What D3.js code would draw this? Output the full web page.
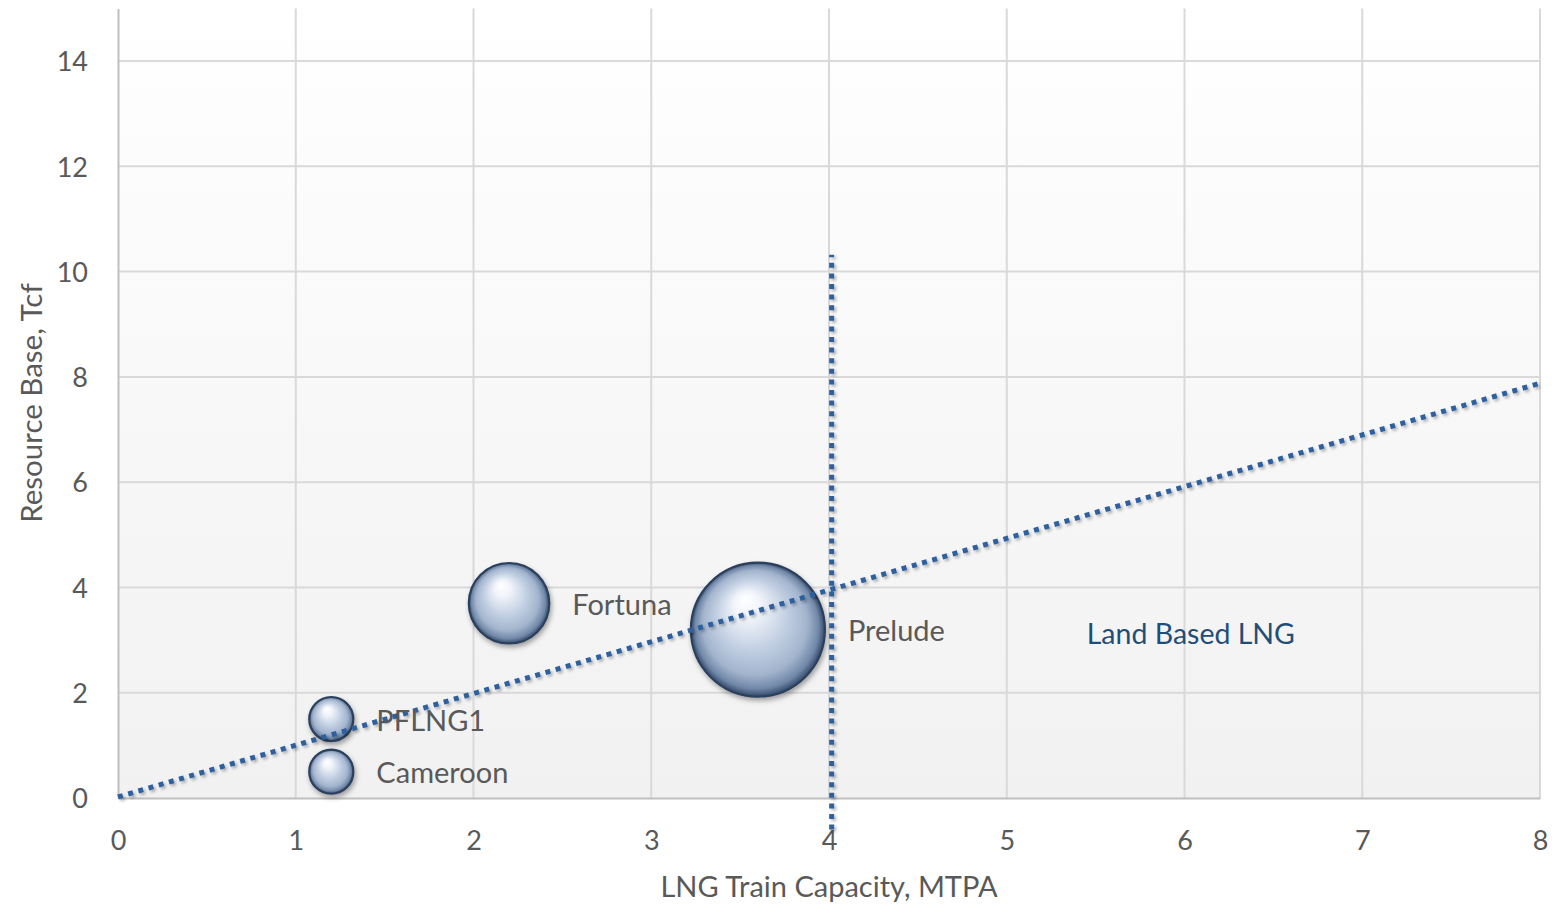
<!DOCTYPE html>
<html>
<head>
<meta charset="utf-8">
<script src="https://cdn.jsdelivr.net/npm/d3@7"></script>
<style>
  html, body { margin: 0; padding: 0; background: #ffffff; }
  svg { display: block; font-family: Lato, "Open Sans", sans-serif; }
</style>
</head>
<body>
<svg id="chart" width="1552" height="906"></svg>
<script>
// ---- data ----
const projects   = ["Prelude", "Fortuna", "PFLNG1", "Cameroon"];
const capacity   = [3.6, 2.2, 1.2, 1.2];      // MTPA
const resource   = [3.2, 3.7, 1.5, 0.5];      // Tcf
const bubbleSize = [8.7, 3.2, 1.0, 1.0];      // relative bubble size
const xTicks = [0, 1, 2, 3, 4, 5, 6, 7, 8];
const yTicks = [0, 2, 4, 6, 8, 10, 12, 14];
const trendX = [0, 8];
const trendY = [0.02, 7.88];
const dividerX = [4.015, 4.015];
const dividerY = [-0.6, 10.32];
const regionLabel = { text: "Land Based LNG", x: 5.45, y: 3.15 };
const xTitle = "LNG Train Capacity, MTPA";
const yTitle = "Resource Base, Tcf";

// ---- layout ----
const svg = d3.select("#chart");
const pL = 118, pR = 1540, pT = 8.4, pB = 798;
const x = d3.scaleLinear().domain([0, 8]).range([pL, pR]);
const y = d3.scaleLinear().domain([0, 15]).range([pB, pT]);
const r = d3.scaleSqrt().domain([0, d3.max(bubbleSize)]).range([0, 68]);

const defs = svg.append("defs");
const bg = defs.append("linearGradient").attr("id", "bg").attr("x1", 0).attr("y1", 0).attr("x2", 0).attr("y2", 1);
bg.append("stop").attr("offset", "0%").attr("stop-color", "#ffffff");
bg.append("stop").attr("offset", "100%").attr("stop-color", "#f1f1f1");

const ball = defs.append("radialGradient").attr("id", "ball")
  .attr("cx", "0.5").attr("cy", "0.5").attr("r", "0.5").attr("fx", "0.4").attr("fy", "0.27");
[["0%", "#ffffff"], ["20%", "#f1f4fa"], ["52%", "#c3d0e3"], ["78%", "#a2b4cd"], ["92%", "#7188a8"], ["100%", "#34496a"]]
  .forEach(([o, c]) => ball.append("stop").attr("offset", o).attr("stop-color", c));

const shBall = defs.append("filter").attr("id", "shBall").attr("x", "-30%").attr("y", "-30%").attr("width", "160%").attr("height", "160%");
shBall.append("feDropShadow").attr("dx", 1.5).attr("dy", 3).attr("stdDeviation", 2.5).attr("flood-color", "#000").attr("flood-opacity", 0.35);
const shLine = defs.append("filter").attr("id", "shLine").attr("filterUnits", "userSpaceOnUse")
  .attr("x", 0).attr("y", 0).attr("width", 1552).attr("height", 906);
shLine.append("feDropShadow").attr("dx", 2).attr("dy", 2).attr("stdDeviation", 1.5).attr("flood-color", "#000").attr("flood-opacity", 0.3);

// plot background
svg.append("rect").attr("x", pL).attr("y", pT).attr("width", pR - pL).attr("height", pB - pT).attr("fill", "url(#bg)");

// gridlines
const grid = svg.append("g").attr("stroke", "#d9d9d9").attr("stroke-width", 2);
grid.selectAll(".gy").data(yTicks.filter(d => d > 0)).join("line").attr("class", "gy")
  .attr("x1", pL).attr("x2", pR).attr("y1", d => y(d)).attr("y2", d => y(d));
grid.selectAll(".gx").data(xTicks.filter(d => d > 0)).join("line").attr("class", "gx")
  .attr("y1", pT).attr("y2", pB).attr("x1", d => x(d)).attr("x2", d => x(d));

// axes
const xAxis = svg.append("g").attr("transform", `translate(0,${pB})`)
  .call(d3.axisBottom(x).tickValues(xTicks).tickSize(0).tickPadding(42).tickFormat(d3.format("d")));
const yAxis = svg.append("g").attr("transform", `translate(${pL},0)`)
  .call(d3.axisLeft(y).tickValues(yTicks).tickSize(0).tickPadding(30).tickFormat(d3.format("d")));
[xAxis, yAxis].forEach(a => {
  a.select(".domain").attr("stroke", "#bfbfbf").attr("stroke-width", 2);
  a.selectAll("text").attr("fill", "#595959").style("font-size", "27px").style("font-family", "Lato, sans-serif");
});
xAxis.selectAll("text").attr("dy", "0.36em");
yAxis.selectAll("text").attr("dy", "0.36em");

// bubbles
const data = projects.map((p, i) => ({ p, cx: capacity[i], cy: resource[i], s: bubbleSize[i] }));
svg.append("g").selectAll("circle").data(data).join("circle")
  .attr("cx", d => x(d.cx)).attr("cy", d => y(d.cy)).attr("r", d => r(d.s) - 1)
  .attr("fill", "url(#ball)").attr("stroke", "#2c405c").attr("stroke-width", 2.2)
  .attr("filter", "url(#shBall)");

// reference lines
const line = d3.line().x(d => x(d[0])).y(d => y(d[1]));
const lines = svg.append("g").attr("fill", "none").attr("stroke", "#2d619f")
  .attr("stroke-width", 5).attr("stroke-dasharray", "5 5.6").attr("filter", "url(#shLine)");
lines.append("path").attr("d", line(trendX.map((v, i) => [v, trendY[i]])));
lines.append("path").attr("d", line(dividerX.map((v, i) => [v, dividerY[i]])));

// bubble labels
svg.append("g").selectAll("text").data(data).join("text")
  .attr("x", d => x(d.cx) + r(d.s) + 22).attr("y", d => y(d.cy)).attr("dy", "0.4em")
  .attr("fill", "#595959").style("font-size", "29px").text(d => d.p);

// region label
svg.append("text").attr("x", x(regionLabel.x)).attr("y", y(regionLabel.y)).attr("dy", "0.4em")
  .attr("fill", "#1f4e79").style("font-size", "28.5px").text(regionLabel.text);

// axis titles
svg.append("text").attr("x", (pL + pR) / 2).attr("y", 887).attr("dy", "0.36em").attr("text-anchor", "middle")
  .attr("fill", "#595959").style("font-size", "29px").text(xTitle);
svg.append("text").attr("transform", `translate(31,403) rotate(-90)`).attr("dy", "0.36em").attr("text-anchor", "middle")
  .attr("fill", "#595959").style("font-size", "29.5px").text(yTitle);
</script>
</body>
</html>
